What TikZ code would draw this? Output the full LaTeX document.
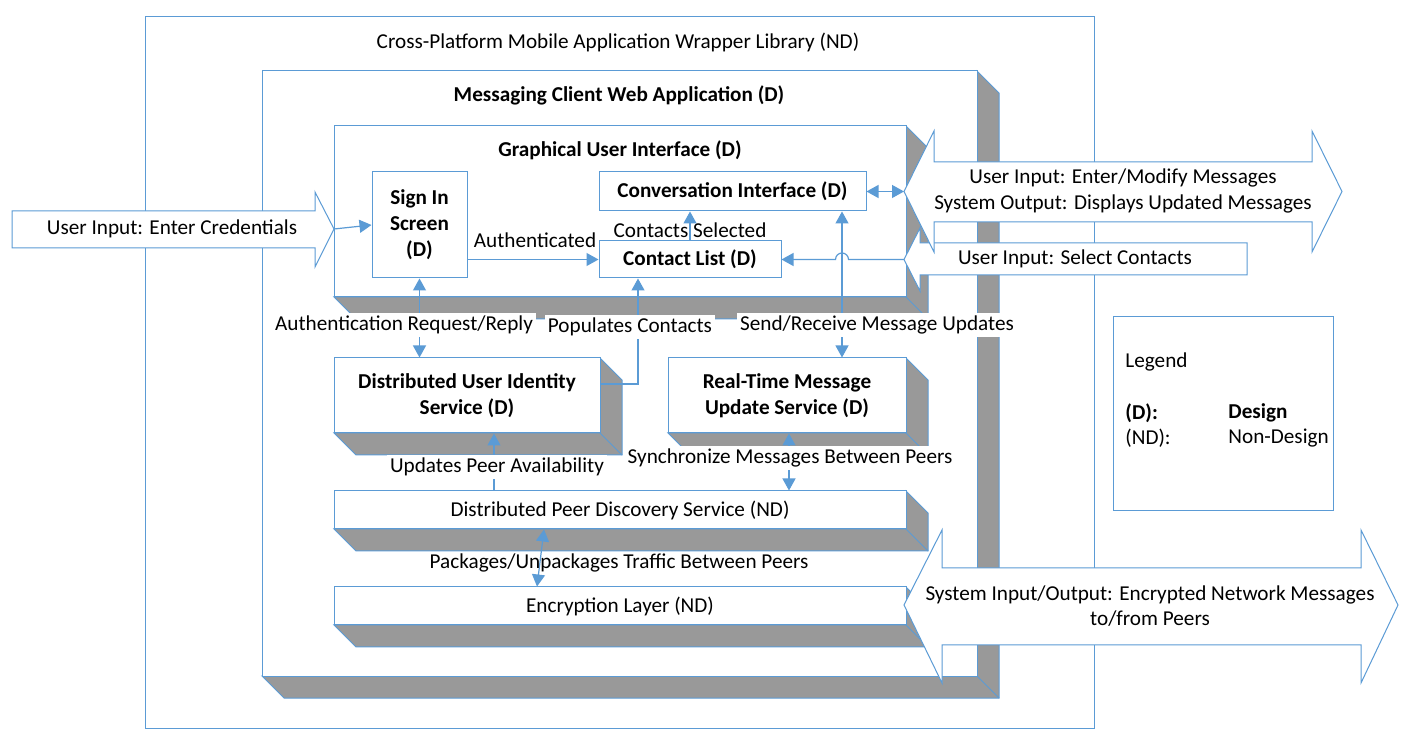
\documentclass[tikz,border=0pt]{standalone}
\usepackage{fontspec}
\setmainfont{Carlito}
\usetikzlibrary{arrows.meta}
\definecolor{lineblue}{HTML}{5B9BD5}
\definecolor{shadowgray}{HTML}{999999}

\begin{document}
\begin{tikzpicture}[x=0.5pt,y=0.5pt]
	\tikzstyle{every node}+=[inner sep=0pt, font=\fontsize{10.6pt}{12.8pt}\selectfont]
	\tikzstyle{outline}=[draw=lineblue, line width=0.5pt]
	\tikzstyle{frontbox}=[draw=lineblue, line width=0.5pt, fill=white]
	\tikzstyle{sideface}=[fill=shadowgray, draw=lineblue, line width=0.5pt]
	\tikzstyle{edge}=[lineblue, line width=0.5pt]
	\tikzstyle{boldtxt}=[font=\fontsize{10.6pt}{13pt}\selectfont\bfseries, align=center]
	\tikzstyle{conn}=[lineblue, line width=0.6pt, -{Triangle[length=6pt,width=6.5pt]}]
	\tikzstyle{conn2}=[lineblue, line width=0.6pt, {Triangle[length=6pt,width=6.5pt]}-{Triangle[length=6pt,width=6.5pt]}]
	\tikzstyle{lbl}=[fill=white, inner sep=1.5pt]
	\tikzstyle{blockarrow}=[draw=lineblue, line width=0.5pt, fill=white]
	\useasboundingbox (0,0) rectangle (1407,-747);
	\node[outline, minimum width=474.5pt, minimum height=355.5pt] (wrapper) at (619.5,-372.5) {};
	\node (wrappertitle) at (618,-42) {Cross-Platform Mobile Application Wrapper Library (ND)};
	\draw[sideface] (977,-71) -- (999,-93) -- (999,-698) -- (284,-698) -- (262,-676) -- (977,-676) -- cycle;
	\draw[edge] (977,-676) -- (999,-698);
	\node[frontbox, minimum width=357.5pt, minimum height=302.5pt] (msgapp) at (619.5,-373.5) {};
	\node[boldtxt] (msgapptitle) at (619,-95) {Messaging Client Web Application (D)};
	\draw[sideface] (906,-126) -- (928,-148) -- (928,-319) -- (356,-319) -- (334,-297) -- (906,-297) -- cycle;
	\draw[edge] (906,-297) -- (928,-319);
	\node[frontbox, minimum width=286pt, minimum height=85.5pt] (gui) at (620,-211.5) {};
	\node[boldtxt] (guititle) at (620,-150) {Graphical User Interface (D)};
	\node[frontbox, boldtxt, minimum width=47.5pt, minimum height=53pt] (signin) at (419.5,-225) {Sign In\\Screen\\(D)};
	\node[frontbox, boldtxt, minimum width=133.5pt, minimum height=19.5pt] (conv) at (732.5,-191.5) {Conversation Interface (D)};
	\node[frontbox, boldtxt, minimum width=91pt, minimum height=18.5pt] (clist) at (690,-259.5) {Contact List (D)};
	\draw[sideface] (600,-358) -- (622,-380) -- (622,-455) -- (356,-455) -- (334,-433) -- (600,-433) -- cycle;
	\draw[edge] (600,-433) -- (622,-455);
	\node[frontbox, boldtxt, minimum width=133pt, minimum height=37.5pt] (identity) at (467,-395.5) {Distributed User Identity\\Service (D)};
	\draw[sideface] (906,-358) -- (928,-380) -- (928,-455) -- (690,-455) -- (668,-433) -- (906,-433) -- cycle;
	\draw[edge] (906,-433) -- (928,-455);
	\node[frontbox, boldtxt, minimum width=119pt, minimum height=37.5pt] (realtime) at (787,-395.5) {Real-Time Message\\Update Service (D)};
	\draw[sideface] (906,-491) -- (928,-513) -- (928,-551) -- (356,-551) -- (334,-529) -- (906,-529) -- cycle;
	\draw[edge] (906,-529) -- (928,-551);
	\node[frontbox, minimum width=286pt, minimum height=19pt] (peerdisc) at (620,-510) {Distributed Peer Discovery Service (ND)};
	\draw[sideface] (906,-587) -- (928,-609) -- (928,-647) -- (356,-647) -- (334,-625) -- (906,-625) -- cycle;
	\draw[edge] (906,-625) -- (928,-647);
	\node[frontbox, minimum width=286pt, minimum height=19pt] (encrypt) at (620,-606) {Encryption Layer (ND)};
	\coordinate (sendx) at (842,0);
	\coordinate (popy) at (0,-384);
	\coordinate (popx) at (638,0);
	\coordinate (availx) at (494,0);
	\coordinate (syncx) at (789,0);
	\coordinate (pkgtop) at (544,0);
	\coordinate (pkgbot) at (537,0);
	\draw[conn] (signin.east |- clist.west) -- (clist.west);
	\draw[conn] (clist.north) -- (clist.north |- conv.south);
	\draw[conn2] (signin.south) -- (signin.south |- identity.north);
	\draw[conn] (identity.east |- popy) -| (popx |- clist.south);
	\draw[conn] (peerdisc.north -| availx) -- (identity.south -| availx);
	\draw[conn2] (realtime.south -| syncx) -- (peerdisc.north -| syncx);
	\draw[conn2] (peerdisc.south -| pkgtop) -- (encrypt.north -| pkgbot);
	\draw[conn2] (realtime.north -| sendx) -- (conv.south -| sendx);
	\node (authdlbl) at (535,-240) {Authenticated};
	\node (sellbl) at (690,-230) {Contacts Selected};
	\node[lbl] (authlbl) at (404,-325) {Authentication Request/Reply};
	\node[lbl] (poplbl) at (630,-327) {Populates Contacts};
	\node[lbl] (sendlbl) at (877,-325) {Send/Receive Message Updates};
	\node[lbl] (availlbl) at (497,-467) {Updates Peer Availability};
	\node[lbl] (synclbl) at (790,-458) {Synchronize Messages Between Peers};
	\node (pkglbl) at (619,-563) {Packages/Unpackages Traffic Between Peers};
	\draw[blockarrow] (904,-259.5) -- (920,-228) -- (920,-243) -- (1247,-243) -- (1247,-275) -- (920,-275) -- (920,-291) -- cycle;
	\coordinate (seltip) at (904,-259.5);
	\node (seltext) at (1075,-259) {User Input: Select Contacts};
	\draw[blockarrow] (904,-191.5) -- (934,-131) -- (934,-162) -- (1312,-162) -- (1312,-131) -- (1342,-191.5) -- (1312,-252) -- (1312,-222) -- (934,-222) -- (934,-252) -- cycle;
	\coordinate (msgtip) at (904,-191.5);
	\node[align=center] (msgtext) at (1123,-191) {User Input: Enter/Modify Messages\\System Output: Displays Updated Messages};
	\draw[blockarrow] (904,-605) -- (942,-530) -- (942,-568) -- (1361,-568) -- (1361,-530) -- (1398,-605) -- (1361,-683) -- (1361,-645) -- (942,-645) -- (942,-683) -- cycle;
	\node[align=center] (enctext) at (1150,-606) {System Input/Output: Encrypted Network Messages\\to/from Peers};
	\draw[blockarrow] (12,-211) -- (315,-211) -- (315,-192) -- (334,-229) -- (315,-267) -- (315,-248) -- (12,-248) -- cycle;
	\coordinate (credtip) at (334,-229);
	\node (credtext) at (172,-229) {User Input: Enter Credentials};
	\draw[conn2] (conv.east) -- (msgtip);
	\draw[conn] (seltip) -- (848.5,-259.5) arc[start angle=0, end angle=180, radius=6.5] -- (clist.east);
	\draw[conn] (credtip) -- (signin.west);
	\node[outline, minimum width=110pt, minimum height=97pt] (legend) at (1223,-414) {};
	\node[anchor=west] (legendtitle) at (1125,-362) {Legend};
	\node[anchor=west, font=\fontsize{10.6pt}{12.8pt}\selectfont\bfseries] (dkey) at (1125,-413) {(D):};
	\node[anchor=west, font=\fontsize{10.6pt}{12.8pt}\selectfont\bfseries] (dval) at (1228,-413) {Design};
	\node[anchor=west] (ndkey) at (1125,-438) {(ND):};
	\node[anchor=west] (ndval) at (1228,-438) {Non-Design};
\end{tikzpicture}
\end{document}
